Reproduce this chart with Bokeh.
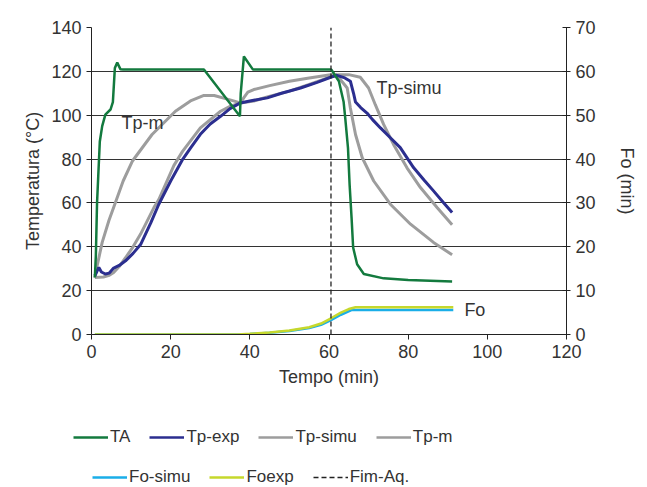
from bokeh.plotting import figure
from bokeh.layouts import column
from bokeh.models import Range1d, LinearAxis, Legend, LegendItem, FixedTicker, Label
from bokeh.embed import file_html
from bokeh.resources import INLINE

# ---- data (time in min, temperature in °C, Fo in min) ----
ta_t = [0.85, 1.1, 1.4, 1.7, 2.1, 2.7, 3.5, 4.8, 5.4, 5.9, 6.5, 7.3, 8.0, 28.4, 37.5, 37.7, 38.5,
        40.8, 42.0, 60.6, 61.6, 62.5, 63.7, 64.1, 64.8, 65.2, 65.7, 66.1, 67.1, 68.8, 73.8, 80.0, 91.1]
ta_v = [26, 36, 60, 72, 88, 95, 100.3, 102.6, 106, 121.5, 124, 121, 120.8, 120.8, 99.5, 110, 126.8,
        120.8, 120.8, 120.8, 118, 115.5, 106, 98.8, 85, 68.6, 53.3, 39.7, 32, 27.6, 25.6, 24.8, 24.2]

tpexp_t = [0.85, 1.85, 2.5, 3.5, 4.5, 5.6, 7.0, 8.6, 10.5, 12.4, 15.0, 17.0, 20.0, 22.9, 25.0, 27.5,
           30.0, 32.6, 35.0, 37.6, 40.0, 44.4, 48.0, 52.8, 57.0, 60.4, 62.0, 64.0, 65.4, 66.2, 66.7,
           68.0, 69.6, 71.0, 73.0, 75.5, 78.0, 81.4, 84.0, 86.4, 89.0, 91.1]
tpexp_v = [26.8, 30.6, 28.5, 27.6, 28.0, 30.3, 31.5, 33.6, 37.0, 41.0, 51.0, 59.4, 70.0, 79.5, 85.0, 91.3,
           96.0, 99.5, 103.0, 105.6, 106.5, 107.9, 110.0, 112.4, 115.0, 117.3, 118.2, 117.0, 115.5, 110.0, 106.0,
           103.5, 101.0, 98.0, 94.2, 89.7, 85.2, 76.0, 70.5, 65.5, 60.0, 55.6]

tpsimu_t = [0.85, 3.0, 4.5, 5.6, 7.0, 8.6, 10.5, 12.4, 15.8, 17.0, 20.8, 23.0, 27.5, 32.6, 35.0, 37.6,
            38.5, 39.5, 41.0, 45.0, 50.0, 55.0, 60.4, 65.0, 67.9, 70.0, 71.7, 73.8, 76.3, 79.7, 83.1,
            87.3, 91.1]
tpsimu_v = [26.0, 26.2, 27.0, 28.3, 31.0, 35.0, 40.0, 45.8, 58.0, 61.5, 77.0, 83.5, 94.2, 101.8, 104.0, 105.6,
            108.0, 110.5, 111.7, 113.5, 115.5, 117.0, 118.5, 118.5, 117.3, 112.4, 104.8, 95.8, 86.7, 76.0, 67.0,
            57.9, 50.0]

tpm_t = [0.85, 1.5, 2.7, 4.4, 6.0, 8.0, 10.3, 15.3, 21.2, 25.0, 28.4, 31.0, 35.0, 37.6, 41.0, 44.4,
         50.0, 55.0, 60.4, 62.0, 64.6, 65.4, 66.7, 68.4, 71.3, 75.5, 80.6, 86.4, 91.1]
tpm_v = [26.0, 32.0, 42.0, 52.0, 60.0, 70.0, 79.0, 91.2, 101.8, 106.5, 109.0, 109.0, 107.0, 105.6, 106.5, 108.3,
         111.0, 114.0, 117.5, 118.2, 112.4, 103.3, 91.2, 80.6, 70.0, 59.4, 50.3, 42.0, 36.4]

fosimu_t = [0.85, 37.0, 40.0, 45.0, 50.0, 55.0, 58.0, 60.5, 63.0, 65.8, 91.4]
fosimu_v = [0.0, 0.0, 0.12, 0.4, 0.8, 1.5, 2.2, 3.3, 4.5, 5.6, 5.6]

foexp_t = [0.85, 37.0, 40.0, 45.0, 50.0, 55.0, 58.0, 60.5, 63.0, 65.0, 66.7, 91.4]
foexp_v = [0.0, 0.0, 0.15, 0.45, 0.9, 1.65, 2.5, 3.7, 5.0, 5.8, 6.2, 6.2]

fim_t = [60.5, 60.5]
fim_v = [0, 140]

x_ticks = [0, 20, 40, 60, 80, 100, 120]
y_ticks = [0, 20, 40, 60, 80, 100, 120, 140]
fo_ticks = [0, 10, 20, 30, 40, 50, 60, 70]

FONT = "Liberation Sans"
TXT = "#333333"
GRAY = "#9d9d9d"
C_TA, C_EXP, C_FOS, C_FOE, C_FIM = "#137a3e", "#2b2e8f", "#1aaee8", "#c6d82c", "#222222"

p = figure(width=647, height=400, output_backend="svg", toolbar_location=None,
           x_range=Range1d(0, 120), y_range=Range1d(0, 140),
           min_border_left=91, min_border_right=81, min_border_top=27, min_border_bottom=66)
p.outline_line_color = None
p.xgrid.grid_line_color = None
p.ygrid.grid_line_color = "#333333"
p.ygrid.grid_line_width = 1
p.ygrid.ticker = FixedTicker(ticks=y_ticks)

p.extra_y_ranges = {"fo": Range1d(0, 70)}
right = LinearAxis(y_range_name="fo", axis_label="Fo (min)")
p.add_layout(right, "right")

for ax in [p.xaxis[0], p.yaxis[0], right]:
    ax.axis_line_color = "#222222"
    ax.major_tick_line_color = "#222222"
    ax.minor_tick_line_color = None
    ax.major_label_text_font = FONT
    ax.major_label_text_font_size = "18px"
    ax.major_label_text_color = TXT
    ax.axis_label_text_font = FONT
    ax.axis_label_text_font_size = "18px"
    ax.axis_label_text_color = TXT
    ax.axis_label_text_font_style = "normal"
    ax.major_tick_in = 0
    ax.major_tick_out = 5

p.xaxis[0].ticker = FixedTicker(ticks=x_ticks)
p.xaxis[0].axis_label = "Tempo (min)"
p.xaxis[0].axis_label_standoff = 6
p.yaxis[0].ticker = FixedTicker(ticks=y_ticks)
p.yaxis[0].axis_label = "Temperatura (°C)"
right.ticker = FixedTicker(ticks=fo_ticks)
right.major_tick_in = 4
right.major_tick_out = 4
right.axis_label_standoff = 18

p.line(tpsimu_t, tpsimu_v, line_color=GRAY, line_width=3)
p.line(tpm_t, tpm_v, line_color=GRAY, line_width=3)
p.line(tpexp_t, tpexp_v, line_color=C_EXP, line_width=3)
p.line(ta_t, ta_v, line_color=C_TA, line_width=2.5)
p.line(fosimu_t, fosimu_v, line_color=C_FOS, line_width=2.5, y_range_name="fo")
p.line(foexp_t, foexp_v, line_color=C_FOE, line_width=2.5, y_range_name="fo")
p.line(fim_t, fim_v, line_color=C_FIM, line_width=1.3, line_dash="5 3")

for txt, x, y, rng in [("Tp-m", 7.6, 96.6, "default"), ("Tp-simu", 72, 112.5, "default"),
                       ("Fo", 94.2, 5.7, "fo")]:
    p.add_layout(Label(x=x, y=y, text=txt, y_range_name=rng, text_font=FONT,
                       text_font_size="18px", text_color=TXT, text_baseline="middle"))

# ---- legend strip below the chart (same series, drawn outside its visible range) ----
q = figure(width=647, height=87, output_backend="svg", toolbar_location=None,
           x_axis_location=None, y_axis_location=None,
           x_range=Range1d(-20, -10), y_range=Range1d(-20, -10),
           min_border_left=0, min_border_right=0, min_border_top=0, min_border_bottom=0)
q.grid.visible = False
q.outline_line_color = None
for fig in (p, q):
    try:
        fig.frame_align = False
    except Exception:
        pass
l_ta = q.line(ta_t, ta_v, line_color=C_TA, line_width=2.5)
l_exp = q.line(tpexp_t, tpexp_v, line_color=C_EXP, line_width=2.5)
l_simu = q.line(tpsimu_t, tpsimu_v, line_color=GRAY, line_width=2.5)
l_m = q.line(tpm_t, tpm_v, line_color=GRAY, line_width=2.5)
l_fos = q.line(fosimu_t, fosimu_v, line_color=C_FOS, line_width=2.5)
l_foe = q.line(foexp_t, foexp_v, line_color=C_FOE, line_width=2.5)
l_fim = q.line(fim_t, fim_v, line_color=C_FIM, line_width=1.3, line_dash="5 3")

def make_legend(items, loc):
    return Legend(items=items, orientation="horizontal", location=loc,
                  border_line_color=None, background_fill_alpha=0,
                  label_text_font=FONT, label_text_font_size="17px", label_text_color=TXT,
                  glyph_width=35, glyph_height=16, label_height=16,
                  label_standoff=2, spacing=19, padding=0, margin=0)

q.add_layout(make_legend([LegendItem(label="TA", renderers=[l_ta]),
                          LegendItem(label="Tp-exp", renderers=[l_exp]),
                          LegendItem(label="Tp-simu", renderers=[l_simu]),
                          LegendItem(label="Tp-m", renderers=[l_m])], (73, 40)))
q.add_layout(make_legend([LegendItem(label="Fo-simu", renderers=[l_fos]),
                          LegendItem(label="Foexp", renderers=[l_foe]),
                          LegendItem(label="Fim-Aq.", renderers=[l_fim])], (92, 0)))

layout = column(p, q, spacing=0)
open("out.html", "w").write(file_html(layout, INLINE))
